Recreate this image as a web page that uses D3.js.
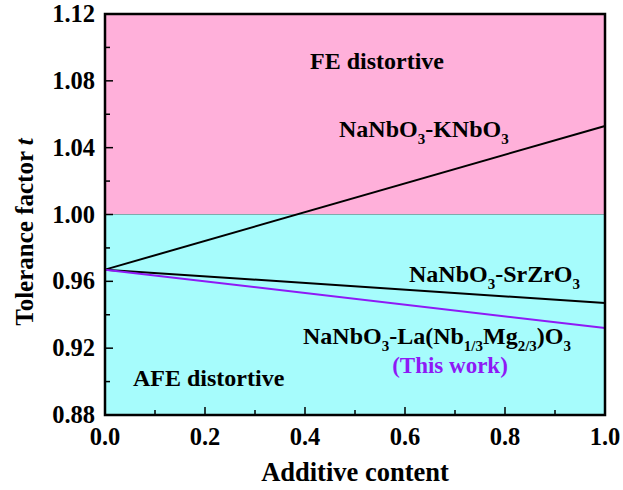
<!DOCTYPE html>
<html>
<head>
<meta charset="utf-8">
<script src="https://cdn.jsdelivr.net/npm/d3@7"></script>
<style>
  html, body { margin: 0; padding: 0; background: #fff; }
  #chart text { font-family: "Liberation Serif", "Times New Roman", Times, serif; font-weight: bold; }
</style>
</head>
<body>
<svg id="chart" width="623" height="490"></svg>
<script>
// Tolerance factor t versus additive content for NaNbO3-based solid solutions
const systems = ["NaNbO3-KNbO3", "NaNbO3-SrZrO3", "NaNbO3-La(Nb1/3Mg2/3)O3"];
const content = [0.0, 1.0];
const tKNbO3 = [0.967, 1.053];
const tSrZrO3 = [0.967, 0.947];
const tLNM = [0.967, 0.932];
const xTicks = [0.0, 0.2, 0.4, 0.6, 0.8, 1.0];
const yTicks = [0.88, 0.92, 0.96, 1.00, 1.04, 1.08, 1.12];
const boundary = 1.00;

const svg = d3.select("#chart");
const m = { left: 105, right: 18, top: 14, bottom: 75 };
const W = 623, H = 490;

const x = d3.scaleLinear().domain([0, 1]).range([m.left, W - m.right]);
const y = d3.scaleLinear().domain([0.88, 1.12]).range([H - m.bottom, m.top]);

// Phase regions
svg.append("rect")
  .attr("x", x(0)).attr("y", y(1.12))
  .attr("width", x(1) - x(0)).attr("height", y(boundary) - y(1.12))
  .attr("fill", "#FFB0DA");
svg.append("rect")
  .attr("x", x(0)).attr("y", y(boundary))
  .attr("width", x(1) - x(0)).attr("height", y(0.88) - y(boundary))
  .attr("fill", "#A6FCFC");
svg.append("line")
  .attr("x1", x(0)).attr("x2", x(1))
  .attr("y1", y(boundary)).attr("y2", y(boundary))
  .attr("stroke", "#6a9a9a").attr("stroke-width", 0.8);

// Lines
const line = d3.line().x((d, i) => x(content[i])).y(d => y(d));
const series = [
  { v: tKNbO3, color: "#000" },
  { v: tSrZrO3, color: "#000" },
  { v: tLNM, color: "#8E1AF5" }
];
series.forEach(s => {
  svg.append("path").datum(s.v)
    .attr("d", line)
    .attr("fill", "none")
    .attr("stroke", s.color)
    .attr("stroke-width", 2);
});

// Inward ticks on the bottom and left axes
const xMinor = d3.range(0, 1.0001, 0.1);
const yMinor = d3.range(0.88, 1.12001, 0.02);
const g = svg.append("g");
xMinor.forEach((v, i) => {
  const len = i % 2 === 0 ? 8 : 5;
  g.append("line").attr("x1", x(v)).attr("x2", x(v))
    .attr("y1", y(0.88)).attr("y2", y(0.88) - len)
    .attr("stroke", "#000").attr("stroke-width", 1.5);
});
yMinor.forEach((v, i) => {
  const len = i % 2 === 0 ? 8 : 5;
  g.append("line").attr("x1", x(0)).attr("x2", x(0) + len)
    .attr("y1", y(v)).attr("y2", y(v))
    .attr("stroke", "#000").attr("stroke-width", 1.5);
});

// Frame
svg.append("rect")
  .attr("x", x(0)).attr("y", y(1.12))
  .attr("width", x(1) - x(0)).attr("height", y(0.88) - y(1.12))
  .attr("fill", "none").attr("stroke", "#000").attr("stroke-width", 2.5);

// Tick labels
xTicks.forEach(v => {
  svg.append("text").attr("x", x(v)).attr("y", y(0.88) + 30)
    .attr("text-anchor", "middle").attr("font-size", 24.5)
    .text(d3.format(".1f")(v));
});
yTicks.forEach(v => {
  svg.append("text").attr("x", x(0) - 10).attr("y", y(v) + 8)
    .attr("text-anchor", "end").attr("font-size", 24.5)
    .text(d3.format(".2f")(v));
});

// Axis titles
svg.append("text").attr("x", 355).attr("y", 481)
  .attr("text-anchor", "middle").attr("font-size", 26.5)
  .text("Additive content");
const yt = svg.append("text")
  .attr("transform", `translate(33, 232) rotate(-90)`)
  .attr("text-anchor", "middle").attr("font-size", 25);
yt.append("tspan").text("Tolerance factor ");
yt.append("tspan").attr("font-style", "italic").text("t");

// Chemical formula labels with subscripts
function chem(xp, yp, parts) {
  const t = svg.append("text").attr("x", xp).attr("y", yp).attr("font-size", 24);
  let shifted = false;
  parts.forEach(p => {
    const isSub = p.startsWith("_");
    const s = t.append("tspan").text(isSub ? p.slice(1) : p);
    if (isSub) {
      s.attr("font-size", 15);
      if (!shifted) { s.attr("dy", 7); shifted = true; }
    } else if (shifted) {
      s.attr("dy", -7); shifted = false;
    }
  });
  return t;
}
svg.append("text").attr("x", 310).attr("y", 69)
  .attr("font-size", 24).text("FE distortive");
svg.append("text").attr("x", 133).attr("y", 386)
  .attr("font-size", 24).text("AFE distortive");
chem(339, 137, ["NaNbO", "_3", "-KNbO", "_3"]);
chem(409, 282, ["NaNbO", "_3", "-SrZrO", "_3"]);
chem(303, 344, ["NaNbO", "_3", "-La(Nb", "_1/3", "Mg", "_2/3", ")O", "_3"]);
svg.append("text").attr("x", 450).attr("y", 373).attr("text-anchor", "middle")
  .attr("font-size", 23).attr("fill", "#8E1AF5").text("(This work)");
</script>
</body>
</html>
